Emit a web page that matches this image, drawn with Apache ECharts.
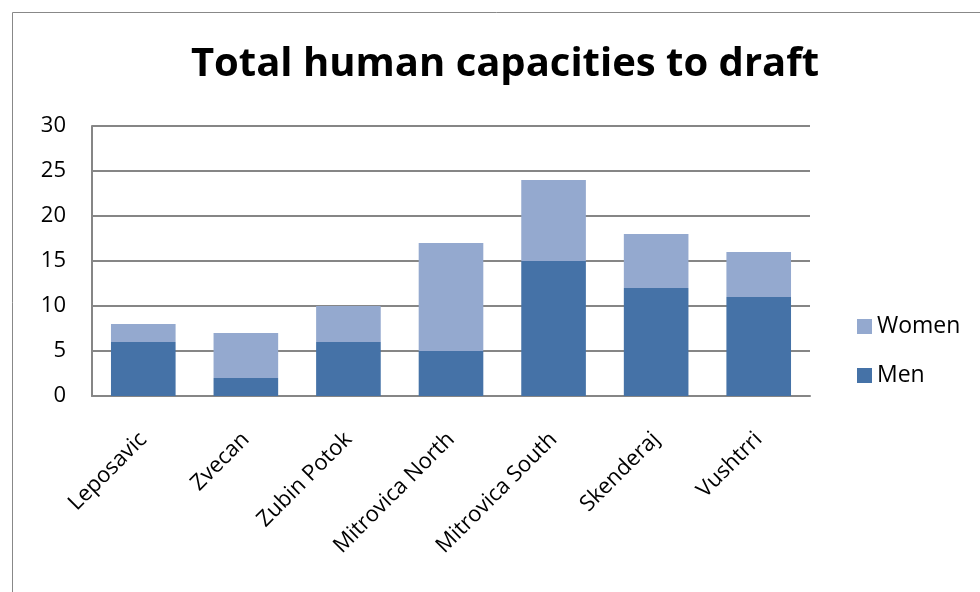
<!DOCTYPE html>
<html>
<head>
<meta charset="utf-8">
<script src="https://cdn.jsdelivr.net/npm/echarts@6/dist/echarts.min.js"></script>
<style>
  html, body { margin: 0; padding: 0; background: #fff; }
  #chart { width: 980px; height: 592px; }
</style>
</head>
<body>
<div id="chart"></div>
<script>
// Municipalities and the men / women counts stacked per bar
const categories = ['Leposavic', 'Zvecan', 'Zubin Potok', 'Mitrovica North', 'Mitrovica South', 'Skenderaj', 'Vushtrri'];
const men = [6, 2, 6, 5, 15, 12, 11];
const women = [2, 5, 4, 12, 9, 6, 5];
const yTicks = [0, 5, 10, 15, 20, 25, 30];

const FONT = '"Open Sans", sans-serif';

const chart = echarts.init(document.getElementById('chart'));
chart.setOption({
  animation: false,
  backgroundColor: '#ffffff',
  graphic: [{
    type: 'rect',
    shape: { x: 12.5, y: 12.5, width: 990, height: 600 },
    style: { fill: 'none', stroke: '#888888', lineWidth: 1 }
  }],
  title: {
    text: 'Total human capacities to draft',
    left: 500, top: 40, textAlign: 'center',
    textStyle: { fontFamily: FONT, fontSize: 40, fontWeight: 'bold', color: '#000' }
  },
  legend: {
    orient: 'vertical',
    left: 852, top: 310,
    itemWidth: 15, itemHeight: 15, itemGap: 26,
    icon: 'rect',
    data: ['Women', 'Men'],
    textStyle: { fontFamily: FONT, fontSize: 23, color: '#000', padding: [0, 0, 0, 0] }
  },
  grid: { left: 92, top: 126, width: 718, height: 270, containLabel: false },
  xAxis: {
    type: 'category',
    data: categories,
    axisLine: { lineStyle: { color: '#868686', width: 2 } },
    axisTick: { show: false },
    axisLabel: {
      rotate: 45, margin: 40, interval: 0,
      fontFamily: FONT, fontSize: 22, color: '#000'
    }
  },
  yAxis: {
    type: 'value',
    min: yTicks[0], max: yTicks[yTicks.length - 1], interval: 5,
    axisLine: { show: true, lineStyle: { color: '#868686', width: 2 } },
    axisTick: { show: false },
    splitLine: { lineStyle: { color: '#868686', width: 2 } },
    axisLabel: { margin: 26, fontFamily: FONT, fontSize: 22, color: '#000' }
  },
  series: [
    {
      name: 'Men', type: 'bar', stack: 'total', data: men,
      barCategoryGap: '37%',
      itemStyle: { color: '#4572a7' }
    },
    {
      name: 'Women', type: 'bar', stack: 'total', data: women,
      barCategoryGap: '37%',
      itemStyle: { color: '#94a9cf' }
    }
  ]
});
</script>
</body>
</html>
